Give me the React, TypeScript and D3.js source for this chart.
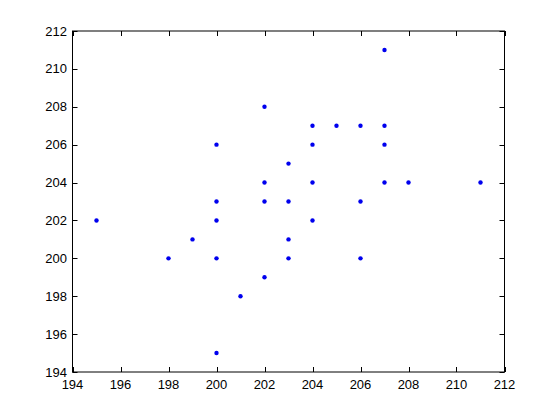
import React, { useEffect, useRef } from "react";
import * as d3 from "d3";

// scatter values
const xs = [195, 198, 199, 200, 200, 200, 200, 200, 201, 202, 202, 202, 202, 203, 203, 203, 203, 204, 204, 204, 204, 205, 206, 206, 206, 207, 207, 207, 207, 208, 211];
const ys = [202, 200, 201, 206, 203, 202, 200, 195, 198, 208, 204, 203, 199, 205, 203, 201, 200, 207, 206, 204, 202, 207, 207, 203, 200, 211, 207, 206, 204, 204, 204];
const xTicks = [194, 196, 198, 200, 202, 204, 206, 208, 210, 212];
const yTicks = [194, 196, 198, 200, 202, 204, 206, 208, 210, 212];

export default function App() {
  const ref = useRef<SVGSVGElement>(null);

  useEffect(() => {
    const svg = d3.select(ref.current);
    svg.selectAll("*").remove();

    const left = 72.5, right = 504.5, top = 31, bottom = 372;
    const x = d3.scaleLinear().domain([194, 212]).range([left, right]);
    const y = d3.scaleLinear().domain([194, 212]).range([bottom, top]);
    const font = "'Liberation Sans', Arial, sans-serif";

    const g = svg.append("g");

    // box
    g.append("rect")
      .attr("x", left).attr("y", top)
      .attr("width", right - left).attr("height", bottom - top)
      .attr("fill", "white").attr("stroke", "black").attr("stroke-width", 1);

    // ticks, inside, on all four sides
    const tl = 5;
    g.selectAll(".xt").data(xTicks).join("path").attr("class", "xt")
      .attr("d", d => `M${Math.round(x(d)) + 0.5},${bottom}v${-tl}M${Math.round(x(d)) + 0.5},${top}v${tl}`)
      .attr("stroke", "black");
    g.selectAll(".yt").data(yTicks).join("path").attr("class", "yt")
      .attr("d", d => `M${left},${Math.round(y(d)) + 0.5}h${tl}M${right},${Math.round(y(d)) + 0.5}h${-tl}`)
      .attr("stroke", "black");

    g.selectAll(".xl").data(xTicks).join("text").attr("class", "xl")
      .attr("x", d => x(d)).attr("y", 389)
      .attr("text-anchor", "middle")
      .attr("font-family", font).attr("font-size", 13)
      .text(d => d);
    g.selectAll(".yl").data(yTicks).join("text").attr("class", "yl")
      .attr("x", 67).attr("y", d => y(d) + 4.5)
      .attr("text-anchor", "end")
      .attr("font-family", font).attr("font-size", 13)
      .text(d => d);

    // points
    g.selectAll("circle").data(xs.map((v, i) => [v, ys[i]]))
      .join("circle")
      .attr("cx", d => x(d[0]))
      .attr("cy", d => y(d[1]))
      .attr("r", 2.2)
      .attr("fill", "#0000ee");
  }, []);

  return (
    <svg ref={ref} width={560} height={420}
      style={{ position: "absolute", left: 0, top: 0, background: "white" }} />
  );
}
